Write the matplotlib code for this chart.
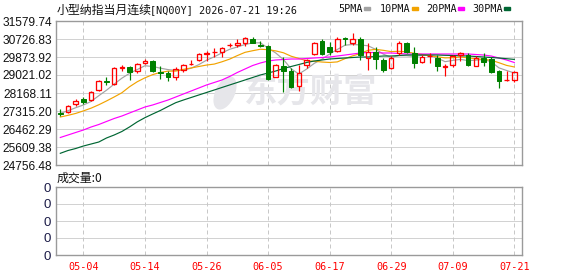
import matplotlib
matplotlib.use('Agg')
import matplotlib.pyplot as plt
from matplotlib.patches import Rectangle, Ellipse
from matplotlib.transforms import IdentityTransform

# ---------------- data ----------------
opens = [27220, 27268, 27647, 27898, 27836, 28310, 28722, 28580, 29353, 29400,
         29210, 29575, 29684, 29163, 29130, 28940, 29258, 29528, 29746, 30030,
         30096, 30125, 30428, 30457, 30552, 30713, 30428, 30395, 28940, 29447,
         29196, 28500, 29495, 30016, 30618, 30348, 30172, 30760, 30552, 30713,
         29812, 30125, 29732, 29338, 30049, 30537, 30049, 29623, 29907, 29812,
         29400, 29480, 29968, 29968, 29462, 29812, 29765, 29210, 28770, 28784]
highs = [27410, 27585, 27898, 27993, 28263, 28784, 28940, 29414, 29481, 29447,
         29604, 29765, 29732, 29447, 29196, 29414, 29542, 29732, 30049, 30172,
         30315, 30362, 30552, 30713, 30807, 30807, 30646, 30442, 29542, 29888,
         29338, 29495, 29765, 30599, 30713, 30599, 30807, 30807, 30997, 30836,
         30523, 30362, 29812, 29921, 30646, 30599, 30362, 29968, 30049, 29968,
         29542, 29968, 30096, 30077, 29921, 30077, 29860, 29258, 29210, 29210]
lows = [27078, 27206, 27552, 27647, 27789, 28263, 28562, 28547, 29225, 28784,
        29101, 29542, 29163, 28845, 28722, 28784, 29177, 29480, 29684, 29684,
        29888, 29860, 30334, 30362, 30395, 30523, 30334, 28784, 28912, 28230,
        28391, 28277, 29338, 29955, 29968, 29968, 30111, 30428, 30428, 29732,
        29258, 29291, 29177, 29305, 29955, 30049, 29338, 29575, 29575, 29225,
        28974, 29414, 29684, 29447, 29447, 29462, 29130, 28419, 28751, 28703]
closes = [27173, 27552, 27803, 27756, 28216, 28737, 28689, 29338, 29386, 29177,
          29542, 29699, 29210, 29116, 28912, 29305, 29480, 29556, 30002, 30063,
          30125, 30315, 30457, 30552, 30760, 30552, 30395, 28831, 29480, 29225,
          28438, 29130, 29717, 30552, 30016, 30125, 30713, 30727, 30713, 29968,
          30125, 29765, 29244, 29841, 30552, 30096, 29575, 29888, 29935, 29447,
          29433, 29921, 30049, 29495, 29841, 29651, 29177, 28751, 28798, 29149]

ma5 = [27200, 27330, 27470, 27600, 27768, 28040, 28300, 28590, 28870, 29100,
       29280, 29460, 29425, 29345, 29277, 29236, 29248, 29344, 29513, 29723,
       29883, 30068, 30239, 30348, 30466, 30540, 30548, 30290, 30064, 29754,
       29313, 29068, 29299, 29572, 29770, 30016, 30232, 30434, 30467, 30445,
       30405, 30233, 30006, 29855, 29936, 29934, 29898, 29955, 29948, 29824,
       29653, 29711, 29761, 29700, 29723, 29761, 29647, 29360, 29234, 29117]
ma10 = [27030, 27110, 27200, 27320, 27450, 27610, 27790, 27980, 28180, 28466,
        28702, 28887, 29038, 29144, 29203, 29207, 29288, 29353, 29424, 29492,
        29538, 29646, 29773, 29940, 30094, 30172, 30242, 30222, 30163, 30074,
        29911, 29805, 29696, 29673, 29636, 29614, 29642, 29796, 29929, 30037,
        30193, 30236, 30189, 30129, 30144, 30119, 30051, 29997, 29934, 29884,
        29833, 29841, 29874, 29833, 29790, 29764, 29720, 29604, 29476, 29402]
ma20 = [26060, 26178, 26297, 26415, 26557, 26675, 26818, 26960, 27078, 27221,
        27363, 27505, 27600, 27718, 27836, 27978, 28121, 28263, 28405, 28548,
        28666, 28784, 28950, 29139, 29305, 29471, 29590, 29684, 29732, 29755,
        29779, 29779, 29803, 29826, 29850, 29874, 29921, 29968, 30016, 30063,
        30087, 30087, 30063, 30063, 30040, 30016, 30016, 30016, 30016, 30016,
        30016, 30016, 30016, 30016, 29992, 29968, 29921, 29826, 29732, 29613]
ma30 = [25311, 25443, 25538, 25656, 25751, 25846, 26036, 26178, 26344, 26560,
        26800, 27000, 27173, 27339, 27528, 27709, 27836, 27955, 28074, 28192,
        28310, 28429, 28548, 28666, 28784, 28903, 29021, 29116, 29210, 29329,
        29424, 29518, 29613, 29684, 29732, 29779, 29803, 29826, 29850, 29874,
        29874, 29898, 29921, 29921, 29945, 29969, 29969, 29969, 29969, 29969,
        29954, 29945, 29931, 29921, 29898, 29874, 29850, 29826, 29793, 29760]
volume = [0] * 60

price_ticks = [24756.48, 25609.38, 26462.29, 27315.20, 28168.11,
               29021.02, 29873.92, 30726.83, 31579.74]
date_idx = [3, 11, 19, 27, 35, 43, 51, 59]
date_labels = ['05-04', '05-14', '05-26', '06-05', '06-17', '06-29', '07-09', '07-21']
vol_tick_labels = ['0', '0', '0', '0', '0']
title_cn = '小型纳指当月连续'
title_rest = '[NQ00Y] 2026-07-21 19:26'
ma_names = ['5PMA', '10PMA', '20PMA', '30PMA']

# ---------------- style ----------------
W, H = 578, 276
RED = '#ff0000'
GREEN = '#008000'
MA_COLORS = ['#a3a3a3', '#f2a300', '#ff00ff', '#006633']
BORDER = '#9a9a9a'
GRID = '#d2d2d2'
VGRID = '#c8c8c8'
PX = 0.72  # one pixel in points at dpi 100

fig = plt.figure(figsize=(W / 100, H / 100), dpi=100)
fig.patch.set_facecolor('white')

ax = fig.add_axes([56 / W, 1 - 165 / H, 466 / W, 144 / H])
axv = fig.add_axes([56 / W, 1 - 255 / H, 466 / W, 68 / H])

n = len(closes)
x = list(range(n))
xlim = (-0.56, 60.0)

# ---------- main panel ----------
ax.set_xlim(*xlim)
ax.set_ylim(price_ticks[0], price_ticks[-1])
ax.set_yticks(price_ticks)
ax.set_yticklabels([f'{v:.2f}' for v in price_ticks], fontfamily='Liberation Sans',
                   fontsize=8.6, color='#111111')
ax.tick_params(axis='y', length=0, pad=2.5)
ax.set_xticks(date_idx)
ax.tick_params(axis='x', length=0, labelbottom=False)
for yv in price_ticks[1:-1]:
    ax.axhline(yv, color=GRID, lw=PX, zorder=0.6)
for xi in date_idx:
    ax.axvline(xi, color=VGRID, lw=PX, ls=(0, (4, 3)), zorder=0.6)
for s in ax.spines.values():
    s.set_color(BORDER)
    s.set_linewidth(1.0)

# watermark
ax.text(310 / W, 1 - 93 / H, '东方财富', transform=fig.transFigure, ha='center', va='center',
        fontsize=24, fontweight='bold', color='#e6e6ea', fontfamily='Noto Sans CJK SC', zorder=0.8)
logo = Ellipse((225, H - 93), 18, 34, angle=-25, transform=IdentityTransform(),
               color='#e6e6ea', zorder=0.8)
ax.add_patch(logo)

# moving averages
for vals, c in zip([ma5, ma10, ma20, ma30], MA_COLORS):
    ax.plot(x, vals, color=c, lw=0.85, zorder=2)

# candles
bw = 0.6
for i in range(n):
    o, h, l, c = opens[i], highs[i], lows[i], closes[i]
    up = c >= o
    col = RED if up else GREEN
    top, bot = max(o, c), min(o, c)
    body_h = max(top - bot, 8)
    if up:
        ax.vlines(i, top, h, color=col, lw=PX * 1.2, zorder=3)
        ax.vlines(i, l, bot, color=col, lw=PX * 1.2, zorder=3)
        ax.add_patch(Rectangle((i - bw / 2, bot), bw, body_h, facecolor='none',
                               edgecolor=col, lw=PX * 1.3, zorder=4))
    else:
        ax.vlines(i, l, h, color=col, lw=PX * 1.2, zorder=3)
        ax.add_patch(Rectangle((i - bw / 2, bot), bw, body_h, facecolor=col,
                               edgecolor=col, lw=PX * 1.0, zorder=4))

# ---------- volume panel ----------
axv.set_xlim(*xlim)
axv.set_ylim(0, 4)
axv.bar(x, volume, width=bw, color=RED)
vt = [0, 1, 2, 3, 4]
axv.set_yticks(vt)
axv.set_yticklabels(vol_tick_labels, fontfamily='Liberation Sans', fontsize=9.5, color='#1c1c48')
axv.tick_params(axis='y', length=0, pad=3.5)
for yv in vt[1:-1]:
    axv.axhline(yv, color=GRID, lw=PX, zorder=0.6)
for xi in date_idx:
    axv.axvline(xi, color=VGRID, lw=PX, ls=(0, (4, 3)), zorder=0.6)
axv.set_xticks(date_idx)
axv.set_xticklabels(date_labels, fontfamily='DejaVu Sans Mono', fontsize=7.3, color=RED)
axv.tick_params(axis='x', length=0, pad=5)
for s in axv.spines.values():
    s.set_color(BORDER)
    s.set_linewidth(1.0)

# ---------- texts ----------
fig.text(57 / W, 1 - 10 / H, title_cn, fontfamily='Noto Sans CJK SC', fontsize=8.6,
         va='center', ha='left', color='#111111')
fig.text(150 / W, 1 - 10 / H, title_rest, fontfamily='DejaVu Sans Mono', fontsize=7.3,
         va='center', ha='left', color='#111111')
fig.text(57 / W, 1 - 178 / H, '成交量:0', fontfamily='Noto Sans CJK SC', fontsize=8.6,
         va='center', ha='left', color='#111111')

leg_x = [338, 380, 426, 472]
for name, c, lx in zip(ma_names, MA_COLORS, leg_x):
    fig.text(lx / W, 1 - 8.5 / H, name, fontfamily='DejaVu Sans Mono', fontsize=7.3,
             va='center', ha='left', color='#111111')
    mx = lx + len(name) * 6 + 2
    fig.add_artist(Rectangle((mx, H - 10.2), 6, 3.5, transform=IdentityTransform(),
                             color=c))

fig.savefig('out.png', dpi=100, facecolor='white')
